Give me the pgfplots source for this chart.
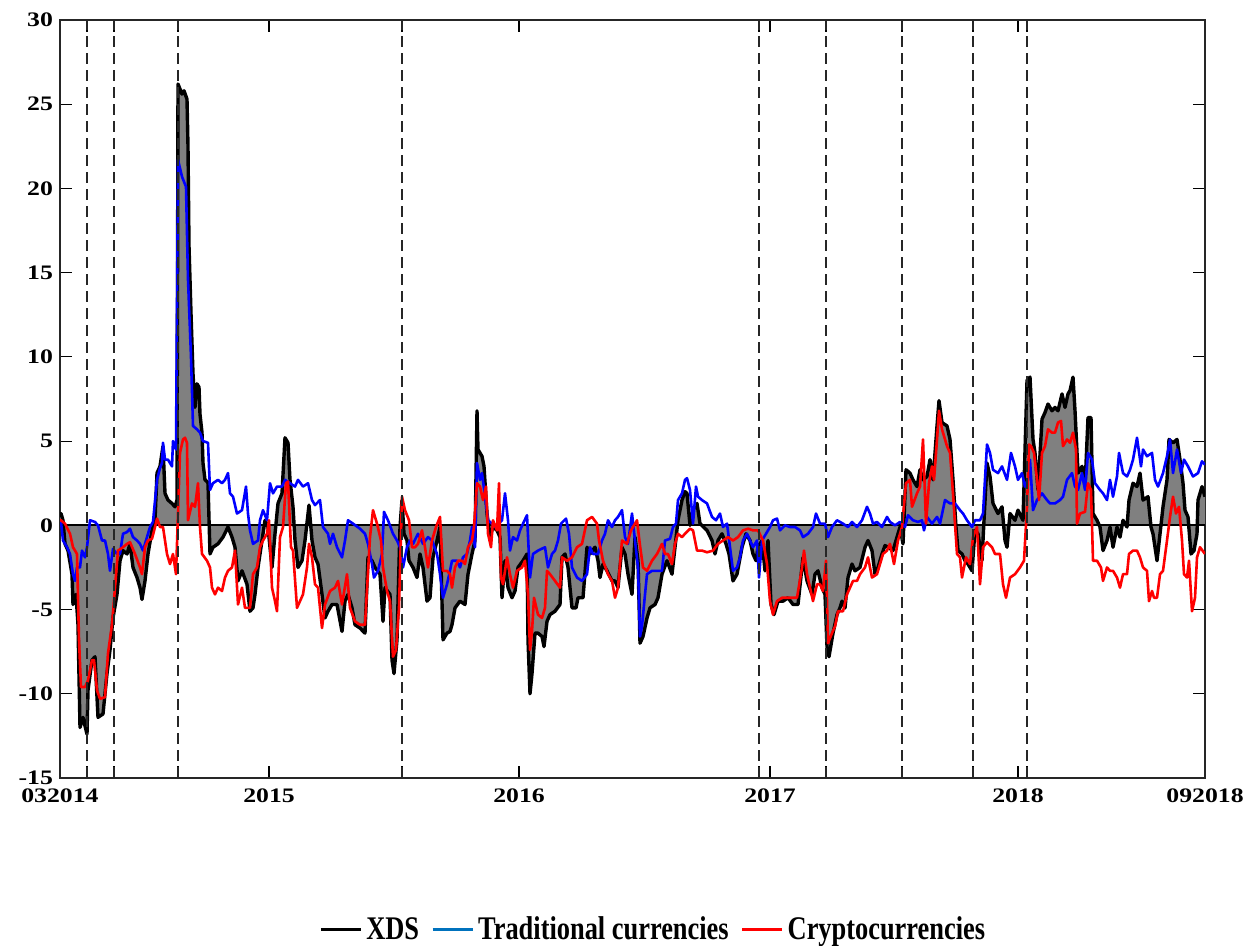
\documentclass[border=0pt]{standalone}
\usepackage{pgfplots}
\pgfplotsset{compat=1.18}
\usepackage{pgfplotstable}
\usepackage{fontspec}
\setmainfont{Liberation Serif}
\newfontfamily\tickfont{Liberation Serif}[FakeStretch=1.25]
\newfontfamily\legfont{Liberation Serif}[FakeStretch=0.8]
\definecolor{legblue}{RGB}{0,114,189}

% x = position in the sample (0 = 03/2014, 1145 = 09/2018)
\pgfplotstableread[row sep=\\]{
x y\\ 0 0.5\\ 1 0.7\\ 3 0.3\\ 5 -1.1\\ 8 -1.5\\ 12 -2.9\\ 13 -4.7\\ 16 -4.1\\ 18 -5.9\\ 20 -12.0\\
23 -11.4\\ 27 -12.4\\ 28 -9.8\\ 32 -8.0\\ 35 -7.8\\ 38 -11.4\\ 43 -11.2\\ 47 -8.8\\ 50 -7.4\\ 53 -5.5\\
57 -4.1\\ 60 -2.1\\ 63 -1.5\\ 67 -1.7\\ 70 -1.1\\ 73 -2.5\\ 77 -3.1\\ 80 -3.7\\ 82 -4.4\\ 85 -3.3\\
88 -1.7\\ 92 -0.3\\ 95 0.3\\ 97 3.1\\ 100 3.5\\ 103 4.7\\ 105 1.9\\ 108 1.5\\ 112 1.3\\ 115 1.1\\
117 1.5\\ 118 26.2\\ 122 25.6\\ 124 25.8\\ 127 25.3\\ 128 22.5\\ 129 16.6\\ 131 12.6\\ 133 9.0\\ 135 7.0\\
137 8.4\\ 139 8.2\\ 140 6.6\\ 142 5.5\\ 143 3.7\\ 145 2.7\\ 147 2.6\\ 148 2.5\\ 150 -1.7\\ 153 -1.3\\
158 -1.1\\ 163 -0.7\\ 168 -0.1\\ 172 -0.7\\ 175 -1.3\\ 178 -3.3\\ 182 -2.7\\ 187 -3.5\\ 190 -5.1\\ 193 -4.9\\
195 -4.1\\ 198 -2.5\\ 202 -0.9\\ 205 0.3\\ 208 -0.1\\ 212 -2.5\\ 215 -0.5\\ 218 1.3\\ 222 1.9\\ 225 5.2\\
228 4.9\\ 230 2.7\\ 233 1.1\\ 235 -0.9\\ 238 -2.5\\ 242 -2.1\\ 245 -0.9\\ 249 1.2\\ 252 -0.9\\ 255 -1.9\\
258 -2.3\\ 262 -4.1\\ 265 -5.5\\ 268 -5.1\\ 272 -4.7\\ 277 -4.7\\ 282 -6.3\\ 285 -4.5\\ 288 -4.1\\ 292 -4.9\\
295 -5.9\\ 300 -6.1\\ 305 -6.4\\ 308 -1.9\\ 312 -2.1\\ 315 -2.5\\ 320 -2.9\\ 323 -5.7\\ 325 -3.7\\ 330 -4.1\\
332 -8.0\\ 334 -8.8\\ 337 -6.8\\ 340 -0.1\\ 342 1.5\\ 344 -0.5\\ 347 -0.9\\ 349 -2.1\\ 353 -2.5\\ 357 -3.1\\
360 -1.7\\ 363 -2.5\\ 367 -4.5\\ 370 -4.3\\ 373 -1.9\\ 377 -0.9\\ 380 -0.1\\ 383 -6.8\\ 387 -6.4\\ 390 -6.3\\
392 -5.9\\ 395 -4.9\\ 400 -4.5\\ 405 -4.7\\ 408 -2.9\\ 412 -1.7\\ 415 -0.9\\ 417 6.8\\ 418 4.5\\ 422 4.1\\
424 3.5\\ 427 0.7\\ 430 -0.7\\ 433 -0.1\\ 437 -0.3\\ 440 -0.7\\ 442 -4.3\\ 445 -2.1\\ 448 -3.7\\ 452 -4.3\\
455 -3.9\\ 458 -2.5\\ 463 -2.1\\ 467 -1.7\\ 468 -6.8\\ 470 -10.0\\ 472 -8.8\\ 475 -6.4\\ 478 -6.4\\ 482 -6.6\\
484 -7.2\\ 487 -5.7\\ 490 -5.3\\ 495 -5.1\\ 500 -4.7\\ 502 -1.9\\ 505 -1.7\\ 508 -2.5\\ 512 -4.9\\ 516 -4.9\\
518 -4.3\\ 523 -4.3\\ 527 -1.3\\ 530 -1.7\\ 535 -1.3\\ 538 -2.1\\ 540 -3.1\\ 543 -2.3\\ 547 -2.7\\ 552 -3.3\\
555 -3.3\\ 558 -3.7\\ 562 -1.3\\ 565 -1.7\\ 568 -2.9\\ 572 -4.1\\ 575 -0.7\\ 578 -2.1\\ 580 -7.0\\ 583 -6.6\\
587 -5.5\\ 590 -4.9\\ 595 -4.7\\ 598 -4.3\\ 602 -2.9\\ 607 -2.1\\ 612 -2.9\\ 615 -1.3\\ 618 0.3\\ 622 1.5\\
625 2.0\\ 627 1.9\\ 630 0.0\\ 633 0.9\\ 637 1.3\\ 640 0.1\\ 647 -0.3\\ 652 -0.9\\ 655 -1.7\\ 658 -0.9\\
662 -0.5\\ 666 -1.1\\ 669 -1.7\\ 673 -3.3\\ 677 -2.9\\ 682 -1.3\\ 686 -0.5\\ 690 -0.9\\ 693 -1.7\\ 696 -2.1\\
698 -1.3\\ 702 -0.9\\ 705 -2.7\\ 708 -0.9\\ 711 -4.7\\ 714 -5.3\\ 718 -4.5\\ 723 -4.5\\ 728 -4.3\\ 733 -4.7\\
738 -4.7\\ 743 -1.9\\ 747 -3.3\\ 752 -4.1\\ 755 -2.9\\ 758 -2.7\\ 762 -3.7\\ 765 -4.1\\ 767 -7.2\\ 769 -7.8\\
773 -6.4\\ 777 -5.3\\ 780 -4.9\\ 782 -4.5\\ 785 -4.9\\ 788 -3.1\\ 792 -2.3\\ 795 -2.7\\ 800 -2.5\\ 805 -1.3\\
808 -0.9\\ 812 -1.5\\ 815 -2.9\\ 818 -2.5\\ 822 -1.7\\ 825 -1.2\\ 828 -1.3\\ 833 -1.5\\ 837 -0.7\\ 840 -0.1\\
843 -1.1\\ 846 3.3\\ 850 3.1\\ 853 2.7\\ 857 2.3\\ 860 3.3\\ 863 2.7\\ 867 2.9\\ 870 3.9\\ 873 2.7\\
877 5.9\\ 879 7.4\\ 882 6.1\\ 887 5.9\\ 890 5.1\\ 893 2.7\\ 896 -0.1\\ 898 -1.5\\ 902 -1.7\\ 905 -2.1\\
908 -2.3\\ 912 -2.7\\ 915 -0.3\\ 918 -0.5\\ 922 -2.1\\ 924 0.3\\ 927 3.7\\ 930 2.9\\ 933 1.3\\ 938 0.7\\
942 1.1\\ 945 -0.9\\ 947 -1.3\\ 950 0.7\\ 955 0.3\\ 958 0.9\\ 963 0.3\\ 967 8.6\\ 970 8.8\\ 973 5.1\\
975 4.3\\ 978 2.1\\ 982 6.3\\ 985 6.7\\ 988 7.2\\ 992 6.8\\ 995 7.0\\ 998 6.8\\ 1002 7.8\\ 1005 7.0\\
1008 7.8\\ 1010 8.0\\ 1013 8.8\\ 1015 6.8\\ 1018 3.1\\ 1022 3.5\\ 1025 2.3\\ 1028 6.4\\ 1031 6.4\\ 1033 0.7\\
1037 0.3\\ 1040 -0.1\\ 1043 -1.5\\ 1047 -0.9\\ 1050 -0.1\\ 1053 -1.3\\ 1057 -0.1\\ 1060 -0.7\\ 1063 0.3\\ 1067 -0.1\\
1069 1.5\\ 1073 2.5\\ 1077 2.3\\ 1080 3.1\\ 1083 1.5\\ 1088 1.7\\ 1091 -0.1\\ 1093 -0.5\\ 1097 -2.1\\ 1100 -0.5\\
1103 1.1\\ 1107 2.7\\ 1109 5.1\\ 1113 4.9\\ 1117 5.1\\ 1120 3.9\\ 1123 2.5\\ 1125 0.9\\ 1128 0.5\\ 1131 -1.7\\
1134 -1.5\\ 1137 -0.5\\ 1138 1.5\\ 1142 2.3\\ 1145 1.7\\
}\xds

\pgfplotstableread[row sep=\\]{
x y\\ 0 0.3\\ 1 0.2\\ 3 -0.9\\ 7 -1.3\\ 10 -1.7\\ 13 -2.9\\ 15 -3.3\\ 17 -2.5\\ 20 -2.5\\ 22 -1.5\\
25 -1.9\\ 27 -1.3\\ 30 0.3\\ 35 0.2\\ 38 0.0\\ 42 -0.9\\ 45 -0.9\\ 48 -1.7\\ 50 -2.7\\ 53 -1.4\\
57 -1.7\\ 60 -1.7\\ 63 -0.5\\ 67 -0.4\\ 70 -0.2\\ 73 -0.7\\ 77 -0.9\\ 80 -1.1\\ 83 -1.5\\ 87 -0.7\\
90 -0.1\\ 93 0.2\\ 97 2.7\\ 100 3.4\\ 102 3.7\\ 103 4.9\\ 105 3.9\\ 108 3.9\\ 112 3.5\\ 113 5.0\\
116 4.5\\ 118 21.7\\ 122 20.7\\ 126 20.1\\ 128 14.6\\ 131 10.0\\ 133 5.9\\ 137 5.7\\ 140 5.5\\ 143 5.0\\
148 4.9\\ 150 2.1\\ 153 2.5\\ 158 2.7\\ 162 2.5\\ 165 2.7\\ 168 3.1\\ 170 1.9\\ 173 1.7\\ 177 0.7\\
182 0.9\\ 186 2.3\\ 188 0.7\\ 190 -0.3\\ 193 -1.1\\ 198 -0.9\\ 200 0.3\\ 203 0.9\\ 207 0.3\\ 210 2.5\\
213 1.9\\ 217 2.3\\ 222 2.3\\ 225 2.7\\ 230 2.5\\ 235 2.3\\ 238 2.7\\ 243 2.3\\ 248 2.5\\ 252 1.5\\
255 1.2\\ 260 1.5\\ 263 -0.1\\ 268 -0.5\\ 270 -1.1\\ 273 -0.5\\ 277 -1.3\\ 282 -1.9\\ 285 -0.9\\ 288 0.3\\
293 0.1\\ 300 -0.2\\ 305 -0.5\\ 308 -1.1\\ 312 -2.3\\ 314 -3.1\\ 318 -2.7\\ 322 -1.7\\ 324 0.8\\ 328 0.3\\
333 -0.5\\ 337 -0.9\\ 340 -1.3\\ 343 -2.5\\ 347 -1.3\\ 350 -0.9\\ 353 -1.1\\ 358 -0.5\\ 363 -1.1\\ 368 -0.7\\
372 -0.9\\ 377 -1.7\\ 380 -2.9\\ 383 -4.3\\ 387 -3.5\\ 390 -2.7\\ 392 -2.1\\ 397 -2.1\\ 400 -2.5\\ 403 -1.9\\
407 -1.7\\ 410 -0.9\\ 412 -0.1\\ 415 -1.3\\ 417 3.7\\ 420 2.7\\ 422 3.1\\ 425 1.7\\ 428 0.3\\ 432 0.1\\
435 -0.1\\ 442 0.3\\ 445 1.9\\ 448 0.3\\ 450 -1.5\\ 453 -0.7\\ 457 -0.9\\ 460 -0.3\\ 463 0.1\\ 467 0.6\\
470 -3.1\\ 473 -1.7\\ 478 -1.5\\ 485 -1.3\\ 488 -2.5\\ 492 -1.7\\ 495 -1.5\\ 498 -0.9\\ 501 0.1\\ 506 0.4\\
509 -0.5\\ 512 -2.5\\ 517 -3.1\\ 522 -3.3\\ 527 -2.9\\ 530 -1.3\\ 533 -1.7\\ 538 -1.7\\ 542 -0.9\\ 545 -0.5\\
548 0.3\\ 552 -0.1\\ 555 0.3\\ 558 0.5\\ 562 0.9\\ 565 -0.7\\ 568 -1.1\\ 572 0.7\\ 575 -0.9\\ 578 -2.5\\
580 -6.6\\ 582 -6.0\\ 585 -4.1\\ 587 -2.9\\ 592 -2.7\\ 597 -2.7\\ 602 -2.7\\ 605 -0.9\\ 610 -0.8\\ 613 -0.1\\
616 0.1\\ 618 1.5\\ 622 1.9\\ 625 2.7\\ 627 2.8\\ 630 2.1\\ 633 0.1\\ 636 2.3\\ 638 1.7\\ 642 1.5\\
647 1.3\\ 652 0.5\\ 656 0.3\\ 660 0.7\\ 663 -0.1\\ 667 0.1\\ 670 -1.3\\ 673 -2.7\\ 677 -2.5\\ 680 -1.9\\
683 -0.9\\ 687 -0.5\\ 690 -0.9\\ 693 -1.3\\ 697 -0.9\\ 699 -3.1\\ 702 -0.9\\ 706 -0.5\\ 710 -0.1\\ 713 0.3\\
717 0.4\\ 720 -0.3\\ 725 0.0\\ 730 -0.1\\ 735 -0.1\\ 740 -0.3\\ 743 -0.7\\ 748 -0.5\\ 753 -0.1\\ 756 0.7\\
760 0.1\\ 765 0.1\\ 768 -0.7\\ 772 -0.1\\ 777 0.3\\ 783 0.1\\ 788 -0.1\\ 792 0.2\\ 797 -0.1\\ 802 0.3\\
807 1.1\\ 810 0.7\\ 813 0.1\\ 817 0.2\\ 822 -0.1\\ 827 0.5\\ 830 0.2\\ 835 0.0\\ 840 0.2\\ 845 -0.1\\
848 0.6\\ 853 0.3\\ 858 0.2\\ 862 0.3\\ 864 -0.3\\ 867 0.5\\ 872 0.1\\ 877 0.5\\ 880 0.1\\ 885 1.5\\
890 1.3\\ 895 1.3\\ 900 0.9\\ 903 0.7\\ 907 0.3\\ 912 -0.1\\ 915 0.3\\ 920 0.3\\ 923 0.7\\ 927 4.8\\
930 4.3\\ 933 3.3\\ 938 3.1\\ 942 3.5\\ 947 2.7\\ 951 4.3\\ 955 3.5\\ 958 2.7\\ 962 3.1\\ 965 2.3\\
968 2.7\\ 970 3.9\\ 973 0.9\\ 977 1.5\\ 982 1.9\\ 987 1.5\\ 990 1.3\\ 995 1.3\\ 1000 1.5\\ 1003 1.7\\
1007 2.7\\ 1012 3.1\\ 1015 2.3\\ 1018 2.1\\ 1022 3.1\\ 1025 2.1\\ 1028 4.3\\ 1032 3.9\\ 1035 2.5\\ 1040 2.1\\
1043 1.9\\ 1047 1.5\\ 1050 2.7\\ 1053 1.7\\ 1057 2.9\\ 1059 4.3\\ 1063 3.1\\ 1067 2.9\\ 1070 3.3\\ 1073 3.9\\
1077 5.2\\ 1081 3.5\\ 1083 4.5\\ 1087 4.1\\ 1092 4.3\\ 1095 2.7\\ 1098 2.3\\ 1103 3.1\\ 1107 4.1\\ 1110 5.1\\
1113 3.1\\ 1117 4.5\\ 1121 3.1\\ 1124 3.9\\ 1128 3.5\\ 1133 2.9\\ 1138 3.1\\ 1142 3.8\\ 1145 3.6\\
}\trad

\pgfplotstableread[row sep=\\]{
x y\\ 0 0.3\\ 1 0.3\\ 5 0.1\\ 10 -0.5\\ 13 -1.3\\ 17 -1.7\\ 19 -6.8\\ 21 -9.6\\ 25 -9.6\\ 28 -9.2\\
32 -8.0\\ 34 -8.0\\ 37 -9.8\\ 40 -10.3\\ 45 -10.2\\ 48 -7.6\\ 52 -5.9\\ 55 -3.7\\ 58 -1.5\\ 63 -1.3\\
67 -1.1\\ 70 -1.0\\ 75 -1.7\\ 80 -2.5\\ 82 -2.9\\ 85 -1.3\\ 88 -0.9\\ 92 -0.8\\ 95 -0.1\\ 97 0.4\\
100 -0.1\\ 103 -0.1\\ 107 -1.7\\ 110 -2.3\\ 113 -1.7\\ 116 -2.9\\ 118 0.7\\ 120 4.3\\ 123 5.1\\ 125 5.2\\
127 4.9\\ 128 0.3\\ 132 1.3\\ 135 1.1\\ 138 2.5\\ 140 -0.1\\ 142 -1.7\\ 147 -2.1\\ 150 -2.5\\ 152 -3.7\\
155 -4.1\\ 158 -3.7\\ 162 -3.9\\ 165 -3.1\\ 168 -2.7\\ 172 -2.5\\ 175 -1.5\\ 178 -4.7\\ 182 -3.7\\ 185 -4.9\\
190 -4.9\\ 193 -2.9\\ 197 -2.5\\ 200 -1.3\\ 203 -0.9\\ 207 -0.5\\ 209 0.3\\ 212 -3.7\\ 215 -4.5\\ 217 -5.1\\
220 -0.7\\ 223 -0.1\\ 226 2.5\\ 228 2.6\\ 231 -1.3\\ 233 -1.5\\ 237 -4.9\\ 240 -4.5\\ 243 -4.1\\ 247 -2.5\\
249 -1.1\\ 252 -1.9\\ 255 -3.5\\ 258 -3.7\\ 262 -6.1\\ 265 -4.7\\ 270 -3.9\\ 275 -3.7\\ 278 -3.3\\ 282 -4.7\\
287 -2.9\\ 290 -4.9\\ 295 -5.7\\ 300 -5.9\\ 305 -5.9\\ 310 -0.7\\ 313 0.9\\ 317 0.1\\ 321 -0.9\\ 323 -2.5\\
327 -3.9\\ 330 -4.5\\ 333 -7.8\\ 336 -7.4\\ 339 -4.9\\ 342 1.7\\ 345 0.9\\ 349 0.3\\ 352 -1.3\\ 355 -1.3\\
358 -1.1\\ 362 -0.3\\ 365 -1.3\\ 368 -2.5\\ 372 -0.9\\ 376 -0.1\\ 380 0.5\\ 383 -2.7\\ 387 -2.7\\ 390 -2.9\\
392 -3.7\\ 395 -2.5\\ 398 -2.1\\ 402 -2.1\\ 405 -2.3\\ 408 -1.3\\ 412 -0.9\\ 414 -0.1\\ 417 2.5\\ 420 2.3\\
423 1.5\\ 426 2.3\\ 428 -0.5\\ 431 -1.3\\ 433 0.3\\ 437 -0.3\\ 439 2.5\\ 441 -3.1\\ 443 -3.5\\ 447 -1.9\\
450 -2.9\\ 453 -3.7\\ 457 -2.7\\ 462 -2.5\\ 465 -2.1\\ 468 -4.1\\ 470 -7.4\\ 472 -6.3\\ 474 -4.3\\ 478 -5.3\\
482 -5.5\\ 485 -4.9\\ 487 -2.7\\ 490 -2.9\\ 495 -3.3\\ 500 -3.7\\ 502 -1.9\\ 507 -2.1\\ 512 -1.9\\ 517 -1.3\\
522 -1.1\\ 527 0.3\\ 532 0.5\\ 537 0.1\\ 539 -0.9\\ 543 -2.1\\ 548 -2.9\\ 552 -3.3\\ 555 -4.3\\ 558 -3.7\\
562 -0.9\\ 567 -1.1\\ 571 -0.3\\ 577 0.3\\ 580 -1.2\\ 583 -2.5\\ 587 -2.7\\ 592 -2.1\\ 597 -1.7\\ 602 -1.1\\
605 -1.7\\ 608 -1.7\\ 612 -2.3\\ 615 -1.1\\ 618 -0.5\\ 622 -0.7\\ 625 -0.5\\ 630 -0.2\\ 633 -0.3\\ 637 -1.5\\
642 -1.5\\ 647 -1.6\\ 653 -1.5\\ 658 -1.1\\ 663 -0.9\\ 668 -0.7\\ 673 -0.9\\ 678 -0.7\\ 683 -0.3\\ 688 -0.2\\
693 -0.3\\ 698 -0.3\\ 703 -0.9\\ 707 -2.3\\ 710 -4.5\\ 713 -5.3\\ 717 -4.5\\ 722 -4.3\\ 727 -4.3\\ 732 -4.3\\
737 -4.3\\ 742 -2.5\\ 744 -1.5\\ 747 -2.9\\ 750 -3.7\\ 753 -4.5\\ 757 -3.5\\ 760 -3.5\\ 763 -3.9\\ 766 -2.1\\
768 -7.0\\ 772 -6.4\\ 775 -6.0\\ 778 -5.1\\ 783 -5.1\\ 787 -4.1\\ 790 -3.7\\ 793 -3.3\\ 797 -3.3\\ 800 -2.9\\
805 -2.5\\ 808 -1.9\\ 812 -3.1\\ 817 -2.9\\ 820 -2.3\\ 823 -1.7\\ 827 -1.5\\ 830 -1.1\\ 834 -2.3\\ 838 -0.9\\
842 -0.1\\ 846 2.5\\ 850 2.7\\ 852 1.1\\ 857 1.9\\ 860 2.3\\ 863 5.1\\ 866 0.1\\ 869 2.5\\ 872 3.5\\
874 2.7\\ 877 5.1\\ 879 6.8\\ 882 5.7\\ 887 4.7\\ 890 4.3\\ 893 1.9\\ 897 -1.7\\ 900 -1.9\\ 902 -3.1\\
906 -1.9\\ 910 -2.3\\ 913 -0.7\\ 917 -0.1\\ 920 -3.5\\ 923 -1.3\\ 927 -1.0\\ 932 -1.3\\ 935 -1.7\\ 940 -1.7\\
943 -3.5\\ 946 -4.3\\ 950 -3.1\\ 955 -2.9\\ 960 -2.5\\ 964 -2.1\\ 967 1.1\\ 969 4.8\\ 971 4.7\\ 974 4.3\\
977 2.7\\ 979 1.5\\ 982 4.3\\ 985 4.7\\ 988 5.7\\ 992 5.5\\ 995 5.5\\ 998 6.1\\ 1001 6.2\\ 1003 4.7\\
1007 5.1\\ 1010 4.9\\ 1013 5.5\\ 1016 4.5\\ 1017 0.1\\ 1020 0.7\\ 1025 0.8\\ 1028 2.5\\ 1031 2.1\\ 1033 -2.1\\
1037 -2.1\\ 1041 -2.5\\ 1043 -3.3\\ 1047 -2.5\\ 1050 -2.7\\ 1053 -2.7\\ 1057 -3.1\\ 1060 -3.7\\ 1063 -2.9\\ 1067 -2.9\\
1069 -1.7\\ 1073 -1.5\\ 1077 -1.5\\ 1080 -1.9\\ 1083 -2.5\\ 1087 -2.7\\ 1089 -4.5\\ 1092 -3.9\\ 1094 -4.3\\ 1097 -4.3\\
1100 -2.9\\ 1103 -2.7\\ 1107 -0.9\\ 1110 0.5\\ 1113 1.7\\ 1116 0.7\\ 1119 1.1\\ 1122 -0.9\\ 1124 -2.9\\ 1127 -3.1\\
1129 -2.1\\ 1132 -5.1\\ 1135 -4.3\\ 1137 -1.9\\ 1140 -1.3\\ 1145 -1.7\\
}\crypto

\begin{document}
\begin{tikzpicture}
\path[use as bounding box] (-30pt,-84pt) rectangle (593.5pt,389pt);
\begin{axis}[
    scale only axis,
    width=572.5pt, height=379pt,
    xmin=0, xmax=1145, ymin=-15, ymax=30,
    xtick={0,27,54,118,209,342,459,699,710,766,842,913,958,967,1145},
    xticklabels={032014,,,,2015,,2016,,2017,,,,2018,,092018},
    ytick={-15,-10,-5,0,5,10,15,20,25,30},
    yticklabels={-15,-10,-5,0,5,10,15,20,25,30},
    tick align=inside,
    major tick length=6pt,
    every tick/.style={black, line width=0.6pt},
    axis line style={line width=0.9pt, black!85},
    tick label style={font=\tickfont\bfseries\fontsize{10.3}{12}\selectfont},
    xticklabel style={yshift=-2pt},
    every axis plot/.append style={line join=round},
    legend columns=-1,
    legend style={at={(0.519,-0.20)}, anchor=center, draw=none, fill=none,
        font=\legfont\bfseries\fontsize{16.5}{18}\selectfont,
        /tikz/every even column/.append style={column sep=4pt}},
    legend image code/.code={\draw[#1] (0pt,0pt) -- (20pt,0pt);},
    clip=true,
]
\addplot[fill=gray, draw=none, forget plot] table[x=x, y=y] {\xds} \closedcycle;
\addplot[black, line width=1.1pt, forget plot] coordinates {(0,0) (1145,0)};
\addplot[black, line width=1.7pt, forget plot] table[x=x, y=y] {\xds};
\addplot[blue, line width=1.3pt, forget plot] table[x=x, y=y] {\trad};
\addplot[red, line width=1.3pt, forget plot] table[x=x, y=y] {\crypto};
\pgfplotsinvokeforeach{27,54,118,342,699,766,842,913,967}{
  \addplot[black!85, line width=0.7pt, dash pattern=on 5.5pt off 3pt, forget plot] coordinates {(#1,-15) (#1,30)};
}
\addlegendimage{black, line width=1.5pt}
\addlegendentry{XDS}
\addlegendimage{legblue, line width=1.5pt}
\addlegendentry{Traditional currencies}
\addlegendimage{red, line width=1.5pt}
\addlegendentry{Cryptocurrencies}
\end{axis}
\end{tikzpicture}
\end{document}
